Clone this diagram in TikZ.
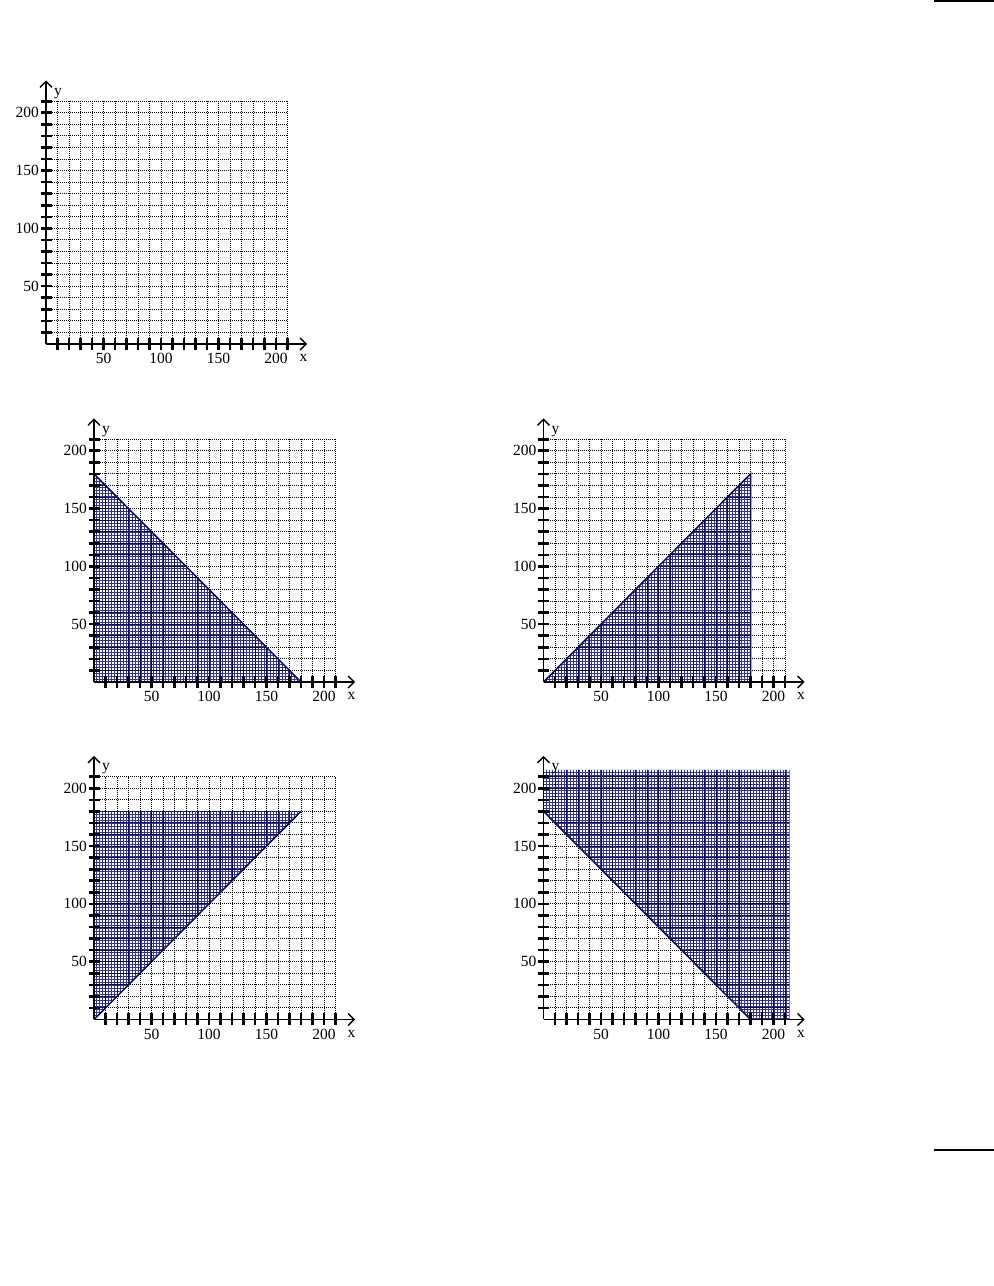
\documentclass[tikz,border=0pt]{standalone}
\usepackage{fontspec}
\setmainfont{Liberation Serif}
\usetikzlibrary{arrows.meta,patterns.meta}
\definecolor{navyfill}{RGB}{50,50,160}
\definecolor{navygrid}{RGB}{20,20,110}
\definecolor{bline}{RGB}{10,10,90}
\tikzdeclarepattern{name=finegrid,type=uncolored,
  bottom left={(-0.1bp,-0.1bp)},top right={(3.1bp,3.1bp)},tile size={(3bp,3bp)},
  code={\pgfsetlinewidth{0.8bp}
    \pgfpathmoveto{\pgfpoint{0bp}{0.5bp}}\pgfpathlineto{\pgfpoint{3bp}{0.5bp}}
    \pgfpathmoveto{\pgfpoint{0.5bp}{0bp}}\pgfpathlineto{\pgfpoint{0.5bp}{3bp}}
    \pgfusepath{stroke}}}
\tikzset{
  gridline/.style={black, line width=1bp, dash pattern=on 1bp off 1bp},
  solidgrid/.style={navygrid, line width=1bp},
  axisline/.style={black, line width=1.8bp, -{Straight Barb[length=6bp,width=12bp,line width=1.3bp]}},
  tickmark/.style={black, line width=2.6bp},
  ticklab/.style={font=\fontsize{15.5bp}{15.5bp}\selectfont, inner sep=0pt},
  shade/.style={pattern=finegrid, pattern color=navyfill},
  bound/.style={bline, line width=1.5bp},
  topline/.style={black, line width=2bp}
}
\newcommand\mygridbody[1]{%
  \foreach \k in {10,20,...,210} {
    \draw[gridline] (\k,0) -- (\k,210);
    \draw[gridline] (0,\k) -- (210,\k);
  }
}
\newcommand\myaxesbody[1]{%
  \coordinate (#1o) at (0,0);
  \coordinate (#1xe) at (227,0);
  \coordinate (#1ye) at (0,228);
  \draw[axisline] (#1o) -- (#1xe);
  \draw[axisline] (#1o) -- (#1ye);
  \foreach \k in {10,20,...,210} {
    \draw[tickmark] ([yshift=-6bp]\k,0) -- ([yshift=6bp]\k,0);
    \draw[tickmark] ([xshift=-5.5bp]0,\k) -- ([xshift=5.5bp]0,\k);
  }
  \foreach \k in {50,100,150,200} {
    \node[ticklab, anchor=north] (#1xl\k) at ([yshift=-9bp]\k,0) {\k};
    \node[ticklab, anchor=east] (#1yl\k) at ([xshift=-7bp]0,\k) {\k};
  }
  \node[ticklab] (#1xlab) at ([yshift=-14bp]224,0) {x};
  \node[ticklab] (#1ylab) at ([xshift=12bp]0,217) {y};
}
\newcommand\myshaded[2]{%
  \fill[shade] #2;
  \begin{scope}
    \clip #2;
    \foreach \k in {10,20,...,210} {
      \draw[solidgrid] (\k,0) -- (\k,230);
      \draw[solidgrid] (0,\k) -- (230,\k);
    }
  \end{scope}
}
\begin{document}
\begin{tikzpicture}[x=1bp,y=1bp]
\useasboundingbox (0,0) rectangle (994,1286);
\fill[white] (0,0) rectangle (994,1286);
\draw[topline] (934,1285) -- (994,1285);
\draw[topline] (934,136) -- (994,136);
% graph 1
\begin{scope}[shift={(46,942)}, x=1.15bp, y=1.156bp]
  \mygridbody{a}
  \myaxesbody{a}
\end{scope}
% graph 2
\begin{scope}[shift={(94,604)}, x=1.15bp, y=1.156bp]
  \myshaded{b}{(0,0) -- (0,180) -- (180,0) -- cycle}
  \mygridbody{b}
  \draw[bound] (0,180) -- (180,0);
  \myaxesbody{b}
\end{scope}
% graph 3
\begin{scope}[shift={(543.5,604)}, x=1.15bp, y=1.156bp]
  \myshaded{c}{(0,0) -- (180,180) -- (180,0) -- cycle}
  \mygridbody{c}
  \draw[bound] (0,0) -- (180,180) -- (180,0);
  \myaxesbody{c}
\end{scope}
% graph 4
\begin{scope}[shift={(94,266.5)}, x=1.15bp, y=1.156bp]
  \myshaded{d}{(0,0) -- (180,180) -- (0,180) -- cycle}
  \mygridbody{d}
  \draw[bound] (0,0) -- (180,180);
  \myaxesbody{d}
\end{scope}
% graph 5
\begin{scope}[shift={(543.5,266.5)}, x=1.15bp, y=1.156bp]
  \myshaded{e}{(0,180) -- (180,0) -- (214,0) -- (214,216) -- (0,216) -- cycle}
  \mygridbody{e}
  \draw[bound] (0,180) -- (180,0);
  \myaxesbody{e}
\end{scope}
\end{tikzpicture}
\end{document}
